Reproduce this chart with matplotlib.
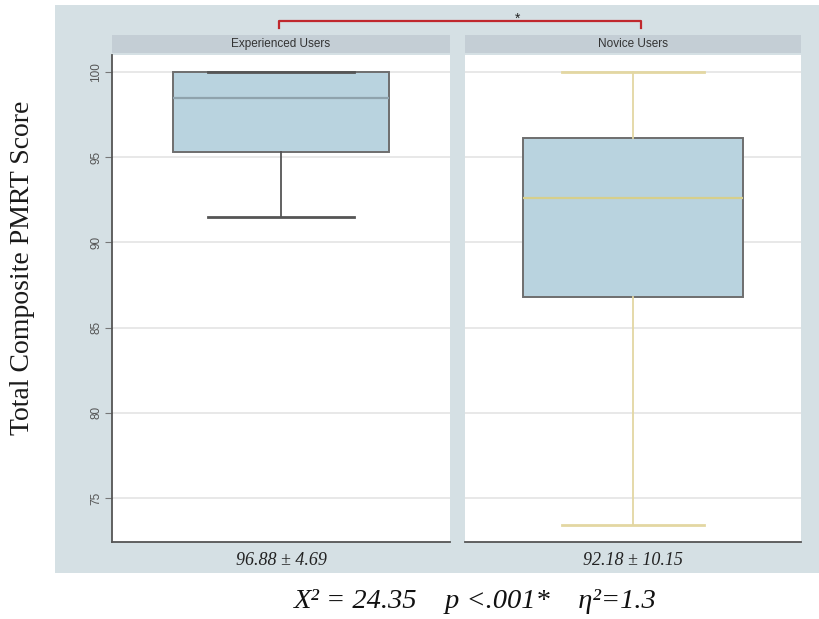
import matplotlib
matplotlib.use("Agg")
import matplotlib.pyplot as plt
import matplotlib.patches as mpatches
from matplotlib.lines import Line2D

# group labels and box summary values
GROUPS = ["Experienced Users", "Novice Users"]
WHISK_LO = [91.5, 73.4]
Q1 = [95.3, 86.8]
MEDIAN = [98.5, 92.6]
Q3 = [100.0, 96.1]
WHISK_HI = [100.0, 100.0]
MEAN_SD = ["96.88 ± 4.69", "92.18 ± 10.15"]
STATS_TEXT = "X² = 24.35    p <.001*    η²=1.3"
Y_TICKS = [75, 80, 85, 90, 95, 100]

BG = "#d5e0e4"
STRIP = "#c4ced5"
BOX_FILL = "#b9d3df"
BOX_EDGE = "#6e6e6e"
GRID = "#e4e4e4"
MEDIAN_COL = ["#8fa3ad", "#d6cf8c"]
WHISK_COL = ["#555555", "#e3d7a2"]

SERIF = ["Liberation Serif", "DejaVu Serif"]
SANS = ["Liberation Sans", "DejaVu Sans"]

fig = plt.figure(figsize=(8.2, 6.19), dpi=100)
fig.patch.set_facecolor("white")

# grey-blue backdrop behind both panels
fig.add_artist(mpatches.Rectangle((55 / 820, 46 / 619), 765 / 820, 568 / 619,
                                  transform=fig.transFigure, facecolor=BG,
                                  edgecolor="none", zorder=0))

positions = [(112 / 820, 77 / 619, 338 / 820, 487 / 619),
             (465 / 820, 77 / 619, 336 / 820, 487 / 619)]
box_w = [0.642, 0.652]
cap_w = [0.43, 0.42]

axes = []
for i, pos in enumerate(positions):
    ax = fig.add_axes(pos)
    ax.set_facecolor("white")
    stats = [{
        "whislo": WHISK_LO[i], "q1": Q1[i], "med": MEDIAN[i],
        "q3": Q3[i], "whishi": WHISK_HI[i], "fliers": [],
    }]
    ax.bxp(stats, positions=[1], widths=box_w[i], capwidths=[cap_w[i]],
           patch_artist=True, showfliers=False,
           boxprops=dict(facecolor=BOX_FILL, edgecolor=BOX_EDGE, linewidth=1.4),
           medianprops=dict(color=MEDIAN_COL[i], linewidth=1.6),
           whiskerprops=dict(color=WHISK_COL[i], linewidth=1.3),
           capprops=dict(color=WHISK_COL[i], linewidth=2.0))
    ax.set_xlim(0.5, 1.5)
    ax.set_ylim(72.42, 101.0)
    ax.set_yticks(Y_TICKS)
    ax.set_xticks([])
    ax.yaxis.grid(True, color=GRID, linewidth=1.2)
    ax.set_axisbelow(True)
    for s in ["top", "right"]:
        ax.spines[s].set_visible(False)
    ax.spines["bottom"].set_color("#555555")
    ax.spines["bottom"].set_linewidth(1.3)
    if i == 0:
        ax.spines["left"].set_color("#555555")
        ax.spines["left"].set_linewidth(1.3)
        ax.tick_params(axis="y", length=5, color="#777777", labelsize=8.5,
                       labelcolor="#555555", labelrotation=90, pad=2)
        for lab in ax.get_yticklabels():
            lab.set_family(SANS)
            lab.set_va("center")
    else:
        ax.spines["left"].set_visible(False)
        ax.tick_params(axis="y", length=0, labelleft=False)

    # strip header
    ax.add_patch(mpatches.Rectangle((0, 1.004), 1, 0.037, transform=ax.transAxes,
                                    facecolor=STRIP, edgecolor="none", clip_on=False))
    ax.text(0.5, 1.0225, GROUPS[i], transform=ax.transAxes, ha="center",
            va="center", fontsize=8.5, color="#333333", family=SANS)

    # mean +- sd under each panel
    ax.text(0.5, -0.038, MEAN_SD[i], transform=ax.transAxes, ha="center",
            va="center", fontsize=13, style="italic", family=SERIF, color="#222222")
    axes.append(ax)

fig.text(0.028, 0.567, "Total Composite PMRT Score", rotation=90, ha="center",
         va="center", fontsize=20, family=SERIF, color="#1a1a1a")

# significance bracket
red = "#c0282d"
x_l, x_r, y_top, y_bot = 279 / 820, 641 / 820, 598 / 619, 591 / 619
fig.add_artist(Line2D([x_l, x_l, x_r, x_r], [y_bot, y_top, y_top, y_bot],
                      transform=fig.transFigure, color=red, linewidth=1.6))
fig.text(518 / 820, 600 / 619, "*", ha="center", va="center", fontsize=10,
         color="#222222", family=SANS)

fig.text(475 / 820, 17 / 619, STATS_TEXT, ha="center", va="center", fontsize=20.5,
         style="italic", family=SERIF, color="#111111")

plt.savefig("out.png", dpi=100)
